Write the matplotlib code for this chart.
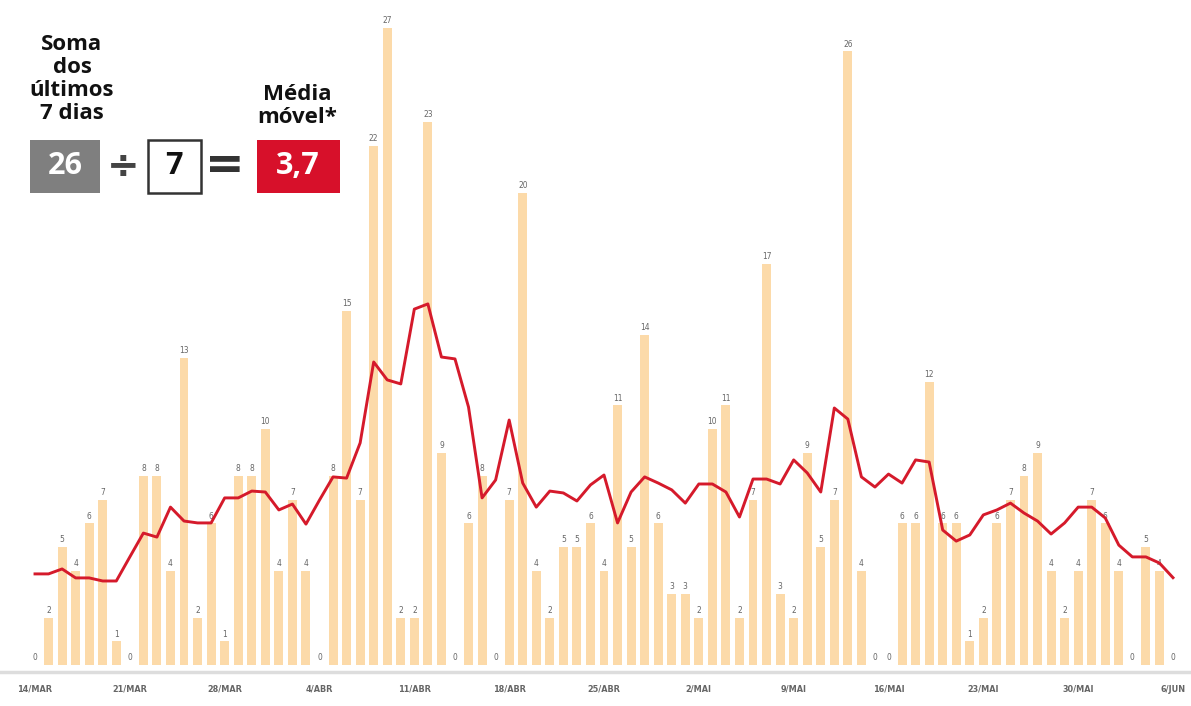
import numpy as np
import pandas as pd
import matplotlib
matplotlib.use("Agg")
import matplotlib.pyplot as plt
from matplotlib.patches import Rectangle

# casos diarios, 14/MAR a 6/JUN
casos_mar = [0, 2, 5, 4, 6, 7, 1, 0, 8, 8, 4, 13, 2, 6, 1, 8, 8, 10]
casos_abr = [4, 7, 4, 0, 8, 15, 7, 22, 27, 2, 2, 23, 9, 0, 6, 8, 0, 7, 20, 4,
             2, 5, 5, 6, 4, 11, 5, 14, 6, 3]
casos_mai = [3, 2, 10, 11, 2, 7, 17, 3, 2, 9, 5, 7, 26, 4, 0, 0, 6, 6, 12, 6,
             6, 1, 2, 6, 7, 8, 9, 4, 2, 4, 7]
casos_jun = [6, 4, 0, 5, 4, 0]

# media movel
media_mar = [3.86, 3.86, 4.07, 3.69, 3.69, 3.56, 3.56, 4.58, 5.59, 5.42, 6.69,
             6.10, 6.02, 6.02, 7.08, 7.08, 7.37, 7.33]
media_abr = [6.57, 6.82, 5.97, 6.99, 7.97, 7.92, 9.41, 12.84, 12.08, 11.91,
             15.08, 15.30, 13.05, 12.97, 10.93, 7.08, 7.84, 10.38, 7.71, 6.69,
             7.37, 7.29, 6.95, 7.63, 8.05, 6.02, 7.33, 7.97, 7.71, 7.42]
media_mai = [6.86, 7.67, 7.67, 7.33, 6.27, 7.88, 7.88, 7.67, 8.69, 8.14, 7.33,
             10.89, 10.42, 7.97, 7.54, 8.09, 7.71, 8.69, 8.60, 5.72, 5.25,
             5.51, 6.36, 6.57, 6.86, 6.44, 6.10, 5.55, 6.02, 6.69, 6.69]
media_jun = [6.23, 5.08, 4.58, 4.58, 4.32, 3.7]

tick_labels = ['14/MAR', '21/MAR', '28/MAR', '4/ABR', '11/ABR', '18/ABR',
               '25/ABR', '2/MAI', '9/MAI', '16/MAI', '23/MAI', '30/MAI', '6/JUN']

soma = 26
dias = 7
media_final = '3,7'

casos = casos_mar + casos_abr + casos_mai + casos_jun
media = media_mar + media_abr + media_mai + media_jun
datas = pd.date_range('2020-03-14', '2020-06-06', freq='D')
x = np.arange(len(datas))

W, H = 1191, 706
fig = plt.figure(figsize=(W / 100, H / 100), dpi=100)

def px(xp, yp):
    return xp / W, 1 - yp / H

step = (1173 - 35) / 84.0
unit = 23.6
ax = fig.add_axes([0, 34 / H, 1, 672 / H])
ax.set_xlim(-35 / step, 84 + 18 / step)
ax.set_ylim(-7 / unit, 665 / unit)

ax.bar(x, casos, width=0.66, color='#fcdaa9', zorder=1)
ax.plot(x, media, color='#d51a2b', lw=2.1, zorder=3)

for i, v in zip(x, casos):
    ax.annotate(str(v), (i, v), xytext=(0, 2), textcoords='offset points',
                ha='center', va='bottom', fontsize=6, color='#666666', zorder=2,
                fontstretch='condensed')

for s in ['top', 'left', 'right']:
    ax.spines[s].set_visible(False)
ax.spines['bottom'].set_color('#dddddd')
ax.spines['bottom'].set_linewidth(2.5)
ax.set_yticks([])
ax.set_xticks(x[::7])
ax.set_xticklabels(tick_labels, fontsize=6.5, fontweight='bold', color='#666666',
                   fontstretch='condensed')
ax.tick_params(axis='x', length=0, pad=9)
ax.patch.set_alpha(0)

# quadro explicativo
tf = fig.transFigure
fig.text(*px(72, 79), 'Soma\ndos\núltimos\n7 dias', ha='center', va='center',
         fontsize=16, fontweight='bold', family='Open Sans', color='#111111',
         linespacing=1.12)
fig.text(*px(297, 106), 'Média\nmóvel*', ha='center', va='center',
         fontsize=16, fontweight='bold', family='Open Sans', color='#111111',
         linespacing=1.12)

bx_y0, bx_y1 = 140, 193
fig.patches.append(Rectangle(px(30, bx_y1), 70 / W, (bx_y1 - bx_y0) / H,
                             transform=tf, facecolor='#7f7f7f', edgecolor='none'))
fig.patches.append(Rectangle(px(148, bx_y1), 53 / W, (bx_y1 - bx_y0) / H,
                             transform=tf, facecolor='white', edgecolor='#333333',
                             lw=1.8))
fig.patches.append(Rectangle(px(257, bx_y1), 83 / W, (bx_y1 - bx_y0) / H,
                             transform=tf, facecolor='#d7102a', edgecolor='none'))
cy = (bx_y0 + bx_y1) / 2
fig.text(*px(65, cy), str(soma), ha='center', va='center', fontsize=22,
         fontweight='bold', family='Open Sans', color='white')
fig.text(*px(174, cy), str(dias), ha='center', va='center', fontsize=22,
         fontweight='bold', family='Open Sans', color='#111111')
fig.text(*px(298, cy), media_final, ha='center', va='center', fontsize=22,
         fontweight='bold', family='Open Sans', color='white')
fig.text(*px(123, cy), '÷', ha='center', va='center', fontsize=28,
         fontweight='bold', color='#444444')
fig.text(*px(225, cy), '=', ha='center', va='center', fontsize=34,
         fontweight='bold', color='#333333')

fig.savefig('out.png', dpi=100)
